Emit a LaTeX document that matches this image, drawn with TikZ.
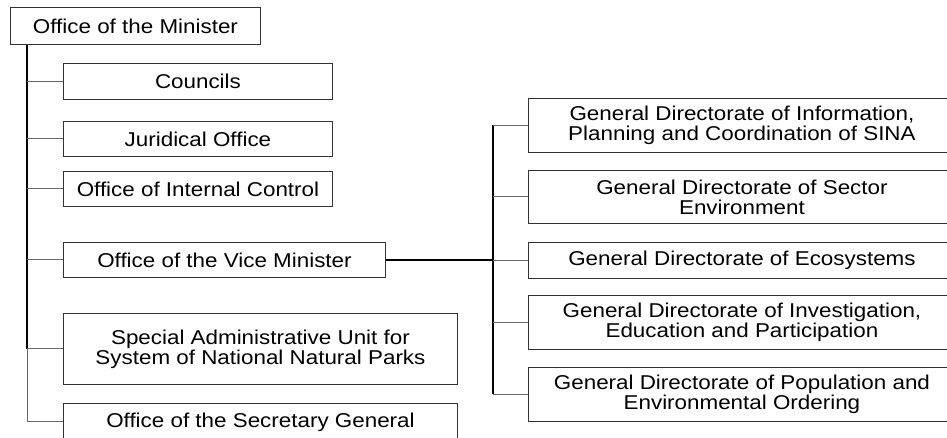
\documentclass[tikz,border=0pt]{standalone}
\usepackage{fontspec}
\setmainfont{Liberation Sans}[FakeStretch=1.12]
\usetikzlibrary{calc}

\tikzset{
  unit/.style={draw=black!80, line width=0.9pt, inner sep=0pt, align=center,
    anchor=north west, font=\fontsize{20}{20}\selectfont},
  branch/.style={draw=black!60, line width=1pt},
  trunk/.style={draw=black, line width=1.6pt},
}

\begin{document}
\begin{tikzpicture}[x=1pt, y=-1pt]
\useasboundingbox (0,0) rectangle (947,438);
\clip (0,0) rectangle (947,438);

% head of the ministry
\node[unit, minimum width=250, minimum height=37] (minister) at (10,7) {Office of the Minister};

% units under the minister
\node[unit, minimum width=269, minimum height=36] (councils) at (63,63) {Councils};
\node[unit, minimum width=269, minimum height=35] (juridical) at (63,121) {Juridical Office};
\node[unit, minimum width=269, minimum height=35] (control) at (63,171) {Office of Internal Control};
\node[unit, minimum width=322, minimum height=35] (vice) at (63,242) {Office of the Vice Minister};
\node[unit, minimum width=394, minimum height=71] (parks) at (63,313)
  {Special Administrative Unit for\\System of National Natural Parks};
\node[unit, minimum width=394, minimum height=37] (secretary) at (63,403) {Office of the Secretary General};

% directorates under the vice minister
\node[unit, minimum width=427, minimum height=54] (info) at (528,98)
  {General Directorate of Information,\\Planning and Coordination of SINA};
\node[unit, minimum width=427, minimum height=53] (sector) at (528,170)
  {General Directorate of Sector\\Environment};
\node[unit, minimum width=427, minimum height=36] (eco) at (528,242)
  {General Directorate of Ecosystems};
\node[unit, minimum width=427, minimum height=54] (invest) at (528,295)
  {General Directorate of Investigation,\\Education and Participation};
\node[unit, minimum width=427, minimum height=54] (popul) at (528,367)
  {General Directorate of Population and\\Environmental Ordering};

% left trunk and its branches
\coordinate (t) at ($(minister.south west)+(17,0)$);
\draw[trunk] (t) -- (t |- parks.west);
\draw[branch] (t |- parks.west) -- (t |- secretary.west);
\foreach \n in {councils,juridical,control,vice,parks,secretary}
  \draw[branch] (t |- \n.west) -- (\n.west);

% right trunk and its branches
\coordinate (r) at (493,0);
\draw[trunk] (vice.east) -- (vice.east -| r);
\draw[trunk] (r |- info.west) -- (r |- popul.west);
\foreach \n in {info,sector,eco,invest,popul}
  \draw[branch] (r |- \n.west) -- (\n.west);
\end{tikzpicture}
\end{document}
